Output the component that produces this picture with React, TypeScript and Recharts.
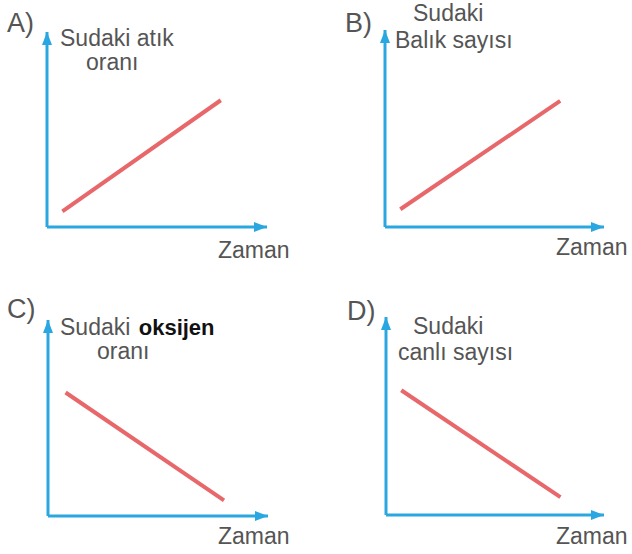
import { Line, LineChart, XAxis, YAxis } from "recharts";

// time (t) vs value (v), both on a 0-100 scale
const wasteRate = [
  { t: 7, v: 8 },
  { t: 79, v: 65 }
];
const fishCount = [
  { t: 7, v: 9 },
  { t: 80, v: 64 }
];
const oxygenRate = [
  { t: 8, v: 63 },
  { t: 80, v: 8 }
];
const livingCount = [
  { t: 7, v: 63 },
  { t: 80, v: 9 }
];

const letters = ["A)", "B)", "C)", "D)"];
const xLabel = "Zaman";

const BLUE = "#2aa7e1";
const RED = "#e8676a";
const GREY = "#555555";
const FONT = "'Liberation Sans', Arial, Helvetica, sans-serif";

// axes take 1px each (a 0px axis is not drawn), so left/bottom are one less
const panels = [
  { data: wasteRate, left: 0, top: 0, margin: { top: 32, left: 46, right: 49, bottom: 49 } },
  { data: fishCount, left: 316, top: 0, margin: { top: 30, left: 68, right: 28, bottom: 49 } },
  { data: oxygenRate, left: 0, top: 277, margin: { top: 43, left: 47, right: 48, bottom: 37 } },
  { data: livingCount, left: 316, top: 277, margin: { top: 40, left: 69, right: 28, bottom: 38 } }
];

function Panel({ data, left, top, margin }: (typeof panels)[number]) {
  return (
    <div style={{ position: "absolute", left, top }}>
      <LineChart width={316} height={277} data={data} margin={margin}>
        <XAxis
          type="number"
          dataKey="t"
          domain={[0, 100]}
          height={1}
          tick={false}
          tickLine={false}
          axisLine={{ stroke: BLUE, strokeWidth: 3, markerEnd: "url(#arrow)" }}
        />
        <YAxis
          type="number"
          domain={[0, 100]}
          width={1}
          tick={false}
          tickLine={false}
          axisLine={{ stroke: BLUE, strokeWidth: 3, markerStart: "url(#arrow)" }}
        />
        <Line
          type="linear"
          dataKey="v"
          stroke={RED}
          strokeWidth={4}
          dot={false}
          activeDot={false}
          isAnimationActive={false}
        />
      </LineChart>
    </div>
  );
}

export default function App() {
  return (
    <div style={{ position: "absolute", left: 0, top: 0, width: 632, height: 554, background: "#fff" }}>
      <svg width={0} height={0} style={{ position: "absolute" }}>
        <defs>
          <marker
            id="arrow"
            viewBox="0 0 13 10"
            refX={13}
            refY={5}
            markerWidth={13}
            markerHeight={10}
            markerUnits="userSpaceOnUse"
            orient="auto-start-reverse"
          >
            <path d="M0,0 L13,5 L0,10 z" fill={BLUE} />
          </marker>
        </defs>
      </svg>
      {panels.map((p, i) => (
        <Panel key={i} {...p} />
      ))}
      <svg
        width={632}
        height={554}
        style={{ position: "absolute", left: 0, top: 0, pointerEvents: "none" }}
        fontFamily={FONT}
        fill={GREY}
      >
        <g fontSize={27}>
          <text x={7} y={32}>{letters[0]}</text>
          <text x={345} y={32}>{letters[1]}</text>
          <text x={7} y={318}>{letters[2]}</text>
          <text x={347} y={320}>{letters[3]}</text>
        </g>
        <g fontSize={23}>
          <text x={60} y={46}>Sudaki atık</text>
          <text x={86} y={70}>oranı</text>
          <text x={413} y={21}>Sudaki</text>
          <text x={395} y={48}>Balık sayısı</text>
          <text x={60} y={335}>
            Sudaki <tspan dx={2} fill="#111" fontWeight="bold" fontSize={22}>oksijen</tspan>
          </text>
          <text x={97} y={359}>oranı</text>
          <text x={413} y={334}>Sudaki</text>
          <text x={398} y={360}>canlı sayısı</text>
          <text x={218} y={258}>{xLabel}</text>
          <text x={556} y={255}>{xLabel}</text>
          <text x={218} y={544}>{xLabel}</text>
          <text x={556} y={544}>{xLabel}</text>
        </g>
      </svg>
    </div>
  );
}
